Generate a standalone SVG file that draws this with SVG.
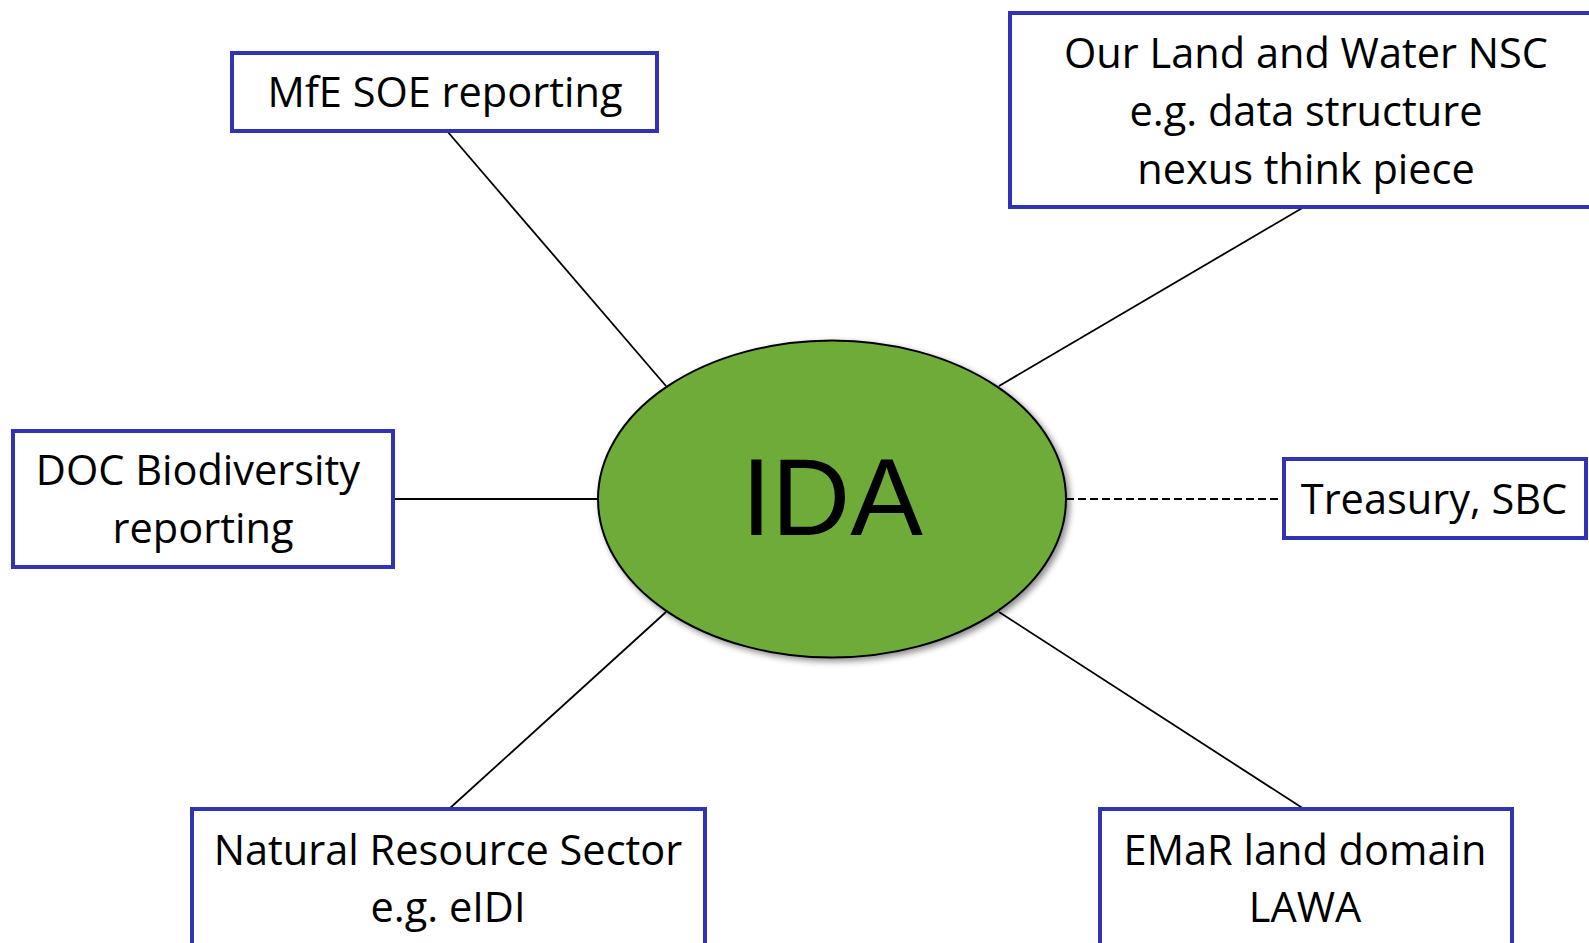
<svg xmlns="http://www.w3.org/2000/svg" width="1589" height="943" viewBox="0 0 1589 943">
  <style>
    .box { fill: #ffffff; stroke: #3232B4; stroke-width: 4; }
    .lbl { font-family: "Open Sans", "Liberation Sans", sans-serif; font-size: 41.5px; fill: #000000; text-anchor: middle; }
    .conn { stroke: #000000; stroke-width: 1.8; fill: none; }
    .dash { stroke-dasharray: 8 4; }
  </style>
  <defs>
    <filter id="shadow" x="-10%" y="-10%" width="125%" height="125%">
      <feDropShadow dx="3" dy="3" stdDeviation="3" flood-color="#000000" flood-opacity="0.45"/>
    </filter>
  </defs>
  <rect x="0" y="0" width="1589" height="943" fill="#ffffff"/>

  <g id="connectors">
    <line class="conn" x1="447" y1="131" x2="666" y2="386"/>
    <line class="conn" x1="1304" y1="207" x2="999" y2="386"/>
    <line class="conn" x1="393" y1="499" x2="598" y2="499"/>
    <line class="conn dash" x1="1066" y1="499" x2="1284" y2="499"/>
    <line class="conn" x1="449" y1="809" x2="666" y2="612"/>
    <line class="conn" x1="1304" y1="809" x2="999" y2="612"/>
  </g>

  <g id="ida">
    <ellipse cx="832" cy="499" rx="234" ry="158.5" fill="#6EAB38" stroke="#000000" stroke-width="2" filter="url(#shadow)"/>
    <text x="832" y="535" font-family="'Liberation Sans', Arial, sans-serif" font-size="109" text-anchor="middle" fill="#000000">IDA</text>
  </g>

  <g id="mfe">
    <rect class="box" x="232" y="53" width="425" height="78"/>
    <text class="lbl" x="445" y="107">MfE SOE reporting</text>
  </g>

  <g id="ourland">
    <rect class="box" x="1010" y="13" width="600" height="194"/>
    <text class="lbl" x="1306" y="68">Our Land and Water NSC</text>
    <text class="lbl" x="1306" y="126">e.g. data structure</text>
    <text class="lbl" x="1306" y="184">nexus think piece</text>
  </g>

  <g id="doc">
    <rect class="box" x="13" y="431" width="380" height="136"/>
    <text class="lbl" x="198" y="485">DOC Biodiversity</text>
    <text class="lbl" x="203" y="543">reporting</text>
  </g>

  <g id="treasury">
    <rect class="box" x="1284" y="459" width="302" height="79"/>
    <text class="lbl" x="1434" y="514">Treasury, SBC</text>
  </g>

  <g id="natural">
    <rect class="box" x="192" y="809" width="513" height="160"/>
    <text class="lbl" x="448" y="865">Natural Resource Sector</text>
    <text class="lbl" x="448" y="922">e.g. eIDI</text>
  </g>

  <g id="emar">
    <rect class="box" x="1100" y="809" width="412" height="160"/>
    <text class="lbl" x="1305" y="865">EMaR land domain</text>
    <text class="lbl" x="1305" y="922">LAWA</text>
  </g>
</svg>
